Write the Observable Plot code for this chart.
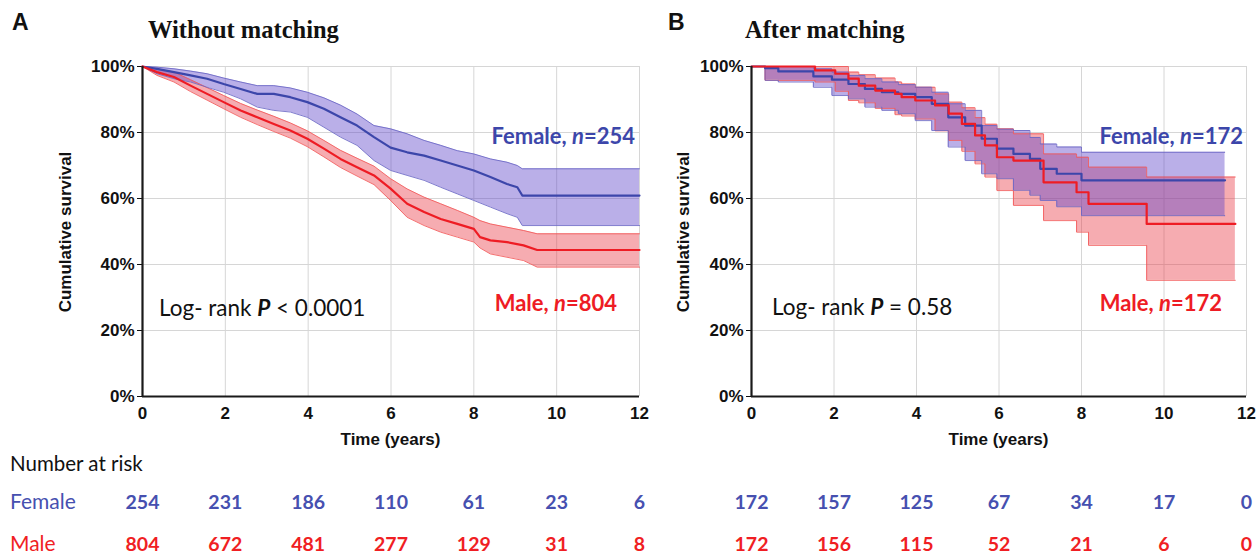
<!DOCTYPE html>
<html><head><meta charset="utf-8">
<script src="https://cdn.jsdelivr.net/npm/d3@7"></script>
<script src="https://cdn.jsdelivr.net/npm/@observablehq/plot@0.6"></script>
<style>
html,body{margin:0;padding:0;background:#fff;overflow:hidden;}
#wrap{position:relative;width:1256px;height:556px;overflow:hidden;background:#fff;}
#wrap > svg{position:absolute;overflow:visible;}
</style></head><body><div id="wrap"></div>
<script>
// ---------- shared ticks / categories ----------
const timeTicks = [0, 2, 4, 6, 8, 10, 12];
const survTicks = [0, 20, 40, 60, 80, 100];
const groups = ["Female", "Male"];

// ---------- Panel A: without matching ----------
const aFemaleTime = [0, 0.35, 0.76, 1.16, 1.56, 1.96, 2.37, 2.77, 3.17, 3.57, 3.98, 4.38, 4.78, 5.18, 5.59, 5.99, 6.39, 6.8, 7.2, 7.6, 8.0, 8.4, 8.8, 9.05, 9.17, 12];
const aFemaleSurv = [100, 99.3, 98.3, 97.3, 96.3, 94.7, 93.2, 91.7, 91.7, 90.7, 89.2, 87.2, 84.6, 82.1, 78.6, 75.4, 74.0, 73.0, 71.5, 70.0, 68.5, 66.5, 64.4, 63.4, 60.9, 60.9];
const aFemaleLow  = [100, 97.8, 96.3, 95.3, 93.7, 92.2, 90.2, 87.7, 86.7, 86.2, 84.6, 81.6, 78.6, 76.1, 71.5, 68.5, 67.0, 65.5, 63.4, 61.4, 59.4, 57.4, 55.4, 54.3, 51.8, 51.8];
const aFemaleHigh = [100, 99.8, 99.3, 98.6, 97.8, 96.5, 95.3, 94.2, 94.2, 93.5, 92.2, 90.5, 88.3, 85.6, 82.1, 81.1, 79.6, 77.6, 76.1, 74.5, 73.5, 72.0, 71.0, 70.0, 69.0, 69.0];

const aMaleTime = [0, 0.35, 0.76, 1.16, 1.56, 1.96, 2.37, 2.77, 3.17, 3.57, 3.98, 4.38, 4.78, 5.18, 5.59, 5.99, 6.39, 6.8, 7.2, 7.6, 8.0, 8.15, 8.4, 8.8, 9.2, 9.53, 12];
const aMaleSurv = [100, 98.3, 96.8, 94.2, 91.7, 89.2, 86.7, 84.6, 82.6, 80.6, 78.1, 75.1, 72.0, 69.5, 67.0, 63.0, 58.4, 55.9, 53.8, 52.3, 50.8, 48.3, 47.3, 46.8, 45.8, 44.4, 44.4];
const aMaleLow  = [100, 97.3, 95.3, 92.4, 89.8, 87.2, 84.6, 82.4, 80.3, 78.3, 75.7, 72.6, 69.4, 66.8, 64.2, 59.4, 54.3, 51.8, 49.8, 48.3, 46.8, 45.0, 43.2, 42.2, 41.2, 39.2, 39.2];
const aMaleHigh = [100, 99.3, 98.3, 96.0, 93.6, 91.2, 88.8, 86.8, 84.9, 82.9, 80.5, 77.6, 74.6, 72.2, 69.8, 66.0, 62.9, 60.4, 58.4, 56.4, 54.3, 53.3, 52.3, 51.3, 50.3, 49.3, 49.3];

// ---------- Panel B: after matching ----------
const bFemaleTime = [0, 0.33, 0.65, 1.5, 1.95, 2.35, 2.75, 3.16, 3.56, 3.97, 4.37, 4.77, 5.18, 5.58, 5.95, 6.35, 6.75, 7.0, 7.4, 8.0, 11.48];
const bFemaleSurv = [100, 99.5, 98.5, 97.0, 96.0, 94.7, 93.2, 92.2, 91.7, 90.7, 88.7, 84.6, 82.1, 78.1, 75.1, 73.5, 72.0, 69.0, 67.5, 65.5, 65.5];
const bFemaleLow  = [100, 95.8, 95.3, 93.7, 91.2, 90.2, 87.7, 86.7, 85.7, 83.6, 80.6, 75.6, 71.5, 67.5, 66.0, 62.5, 61.0, 59.4, 57.5, 54.8, 54.8];
const bFemaleHigh = [100, 100, 100, 99.3, 98.3, 97.3, 96.3, 95.3, 94.5, 93.7, 92.2, 88.7, 86.7, 82.1, 81.0, 80.6, 78.5, 76.5, 75.6, 74.0, 74.0];

const bMaleTime = [0, 0.33, 1.54, 2.03, 2.35, 2.6, 3.0, 3.48, 3.64, 3.97, 4.45, 4.78, 5.1, 5.42, 5.66, 5.95, 6.35, 7.08, 7.88, 8.17, 9.58, 11.73];
const bMaleSurv = [100, 100, 98.8, 97.8, 96.3, 94.2, 92.7, 91.7, 90.7, 89.7, 88.2, 85.7, 82.6, 79.1, 76.1, 72.5, 71.5, 64.9, 61.9, 58.4, 52.3, 52.3];
const bMaleLow  = [100, 95.8, 95.3, 92.5, 89.7, 89.0, 87.3, 85.4, 85.0, 84.1, 80.5, 77.6, 74.3, 70.5, 66.5, 62.4, 57.9, 53.3, 49.8, 45.8, 35.2, 35.2];
const bMaleHigh = [100, 100, 100, 100, 98.3, 97.5, 96.5, 95.3, 94.7, 93.7, 91.7, 89.2, 87.5, 84.5, 82.5, 81.1, 79.6, 73.5, 72.5, 69.5, 66.5, 66.5];

// ---------- Number at risk ----------
const riskTimes = [0, 2, 4, 6, 8, 10, 12];
const aRiskFemale = [254, 231, 186, 110, 61, 23, 6];
const aRiskMale   = [804, 672, 481, 277, 129, 31, 8];
const bRiskFemale = [172, 157, 125, 67, 34, 17, 0];
const bRiskMale   = [172, 156, 115, 52, 21, 6, 0];

// ---------- colours ----------
const blueLine = "#3c46aa", redLine = "#ee1c24";
const blueFill = "#5a40c8", redFill = "#ea3a46";
const blueEdge = "#6a66c4", redEdge = "#f25858";
const tableBlue = "#4650b0", tableRed = "#f01e23";

function rows(t, s, lo, hi) {
  return t.map((d, i) => ({t: d, s: s[i], lo: lo[i], hi: hi[i]}));
}

function panel(female, male, width, marginLeft, marginRight, curve) {
  return Plot.plot({
    width, height: 450, marginLeft, marginRight, marginTop: 66, marginBottom: 54,
    x: {domain: [0, 12]},
    y: {domain: [0, 100]},
    style: {fontFamily: "'Liberation Sans', Arial, sans-serif", fontSize: "17px", fontWeight: "bold", color: "#111", background: "transparent", overflow: "visible"},
    marks: [
      Plot.gridX(timeTicks, {stroke: "#d6d6d6", strokeOpacity: 1, strokeWidth: 1}),
      Plot.gridY(survTicks, {stroke: "#d6d6d6", strokeOpacity: 1, strokeWidth: 1}),
      Plot.axisX(timeTicks, {tickSize: 0, tickPadding: 10, label: null, fontSize: 17, fontWeight: "bold"}),
      Plot.axisY(survTicks, {tickSize: 5, tickPadding: 3, label: null, tickFormat: d => d + "%", fontSize: 17, fontWeight: "bold"}),
      Plot.areaY(male, {x: "t", y1: "lo", y2: "hi", curve, fill: redFill, fillOpacity: 0.42}),
      Plot.areaY(female, {x: "t", y1: "lo", y2: "hi", curve, fill: blueFill, fillOpacity: 0.42}),
      Plot.line(male, {x: "t", y: "lo", curve, stroke: redEdge, strokeWidth: 1, strokeOpacity: 0.85}),
      Plot.line(male, {x: "t", y: "hi", curve, stroke: redEdge, strokeWidth: 1, strokeOpacity: 0.85}),
      Plot.line(female, {x: "t", y: "lo", curve, stroke: blueEdge, strokeWidth: 1, strokeOpacity: 0.85}),
      Plot.line(female, {x: "t", y: "hi", curve, stroke: blueEdge, strokeWidth: 1, strokeOpacity: 0.85}),
      Plot.line(female, {x: "t", y: "s", curve, stroke: blueLine, strokeWidth: 2.2}),
      Plot.line(male, {x: "t", y: "s", curve, stroke: redLine, strokeWidth: 2.2}),
      Plot.ruleX([0], {stroke: "#1a1a1a", strokeWidth: 2.2}),
      Plot.ruleY([0], {stroke: "#1a1a1a", strokeWidth: 2.2})
    ]
  });
}

function riskTable(female, male, width, marginLeft, marginRight) {
  const data = [
    ...riskTimes.map((t, i) => ({t, group: "Female", n: female[i]})),
    ...riskTimes.map((t, i) => ({t, group: "Male", n: male[i]}))
  ];
  return Plot.plot({
    width, height: 106, marginLeft, marginRight, marginTop: 0, marginBottom: 0,
    x: {domain: [0, 12], axis: null},
    y: {type: "point", domain: groups, range: [52, 94], padding: 0, axis: null},
    color: {domain: groups, range: [tableBlue, tableRed]},
    style: {background: "transparent", overflow: "visible"},
    marks: [
      Plot.text(data, {x: "t", y: "group", text: d => String(d.n), fill: "group",
        fontSize: 19.5, fontWeight: "bold", fontFamily: "Lato, 'Open Sans', sans-serif"})
    ]
  });
}

const wrap = document.getElementById("wrap");

const pA = panel(rows(aFemaleTime, aFemaleSurv, aFemaleLow, aFemaleHigh),
                 rows(aMaleTime, aMaleSurv, aMaleLow, aMaleHigh), 650, 142, 11, "linear");
pA.style.left = "0px"; pA.style.top = "0px";
wrap.appendChild(pA);

const pB = panel(rows(bFemaleTime, bFemaleSurv, bFemaleLow, bFemaleHigh),
                 rows(bMaleTime, bMaleSurv, bMaleLow, bMaleHigh), 636, 131, 10, "step-after");
pB.style.left = "620px"; pB.style.top = "0px";
wrap.appendChild(pB);

const rA = riskTable(aRiskFemale, aRiskMale, 650, 142, 11);
rA.style.left = "0px"; rA.style.top = "450px";
wrap.appendChild(rA);

const rB = riskTable(bRiskFemale, bRiskMale, 636, 131, 10);
rB.style.left = "620px"; rB.style.top = "450px";
wrap.appendChild(rB);

// ---------- text overlay ----------
const ov = d3.select(wrap).append("svg")
  .attr("width", 1256).attr("height", 556)
  .style("left", "0px").style("top", "0px").style("pointer-events", "none");

const sans = "'Liberation Sans', Arial, sans-serif";
const serif = "'Liberation Serif', 'Times New Roman', serif";
const lato = "Lato, 'Open Sans', sans-serif";

function txt(x, y, o = {}) {
  const t = ov.append("text").attr("x", x).attr("y", y)
    .attr("font-family", o.family || sans).attr("font-size", o.size || 17)
    .attr("font-weight", o.weight || "bold").attr("fill", o.fill || "#111")
    .attr("text-anchor", o.anchor || "start");
  if (o.transform) t.attr("transform", o.transform).attr("x", 0).attr("y", 0);
  return t;
}
function rich(t, parts) {
  parts.forEach(p => {
    const s = t.append("tspan").text(p.text);
    if (p.italic) s.attr("font-style", "italic");
    if (p.weight) s.attr("font-weight", p.weight);
  });
  return t;
}

// panel letters and titles
txt(12, 30, {size: 23}).text("A");
txt(148, 38, {family: serif, size: 24.5}).text("Without matching");
txt(668, 30, {size: 23}).text("B");
txt(745, 38, {family: serif, size: 24.5}).text("After matching");

// axis titles
txt(0, 0, {anchor: "middle", transform: "translate(71,232) rotate(-90)"}).text("Cumulative survival");
txt(0, 0, {anchor: "middle", transform: "translate(689,232) rotate(-90)"}).text("Cumulative survival");
txt(390.5, 445, {anchor: "middle"}).text("Time (years)");
txt(998.5, 445, {anchor: "middle"}).text("Time (years)");

// in-plot annotations
rich(txt(635, 144, {family: lato, size: 22, fill: blueLine, anchor: "end"}),
  [{text: "Female, "}, {text: "n", italic: true}, {text: "=254"}]);
rich(txt(617, 311, {family: lato, size: 22, fill: redLine, anchor: "end"}),
  [{text: "Male, "}, {text: "n", italic: true}, {text: "=804"}]);
rich(txt(159, 316, {family: lato, size: 22.5, weight: "normal"}),
  [{text: "Log- rank "}, {text: "P", italic: true, weight: "bold"}, {text: " < 0.0001"}]);

rich(txt(1243, 144, {family: lato, size: 22, fill: blueLine, anchor: "end"}),
  [{text: "Female, "}, {text: "n", italic: true}, {text: "=172"}]);
rich(txt(1222, 311, {family: lato, size: 22, fill: redLine, anchor: "end"}),
  [{text: "Male, "}, {text: "n", italic: true}, {text: "=172"}]);
rich(txt(772, 315, {family: lato, size: 22.5, weight: "normal"}),
  [{text: "Log- rank "}, {text: "P", italic: true, weight: "bold"}, {text: " = 0.58"}]);

// number at risk labels
txt(10, 471, {family: lato, size: 20.5, weight: "normal"}).text("Number at risk");
txt(10, 509, {family: lato, size: 21, weight: "normal", fill: tableBlue}).text("Female");
txt(10, 551, {family: lato, size: 21, weight: "normal", fill: tableRed}).text("Male");
</script>
</body></html>
